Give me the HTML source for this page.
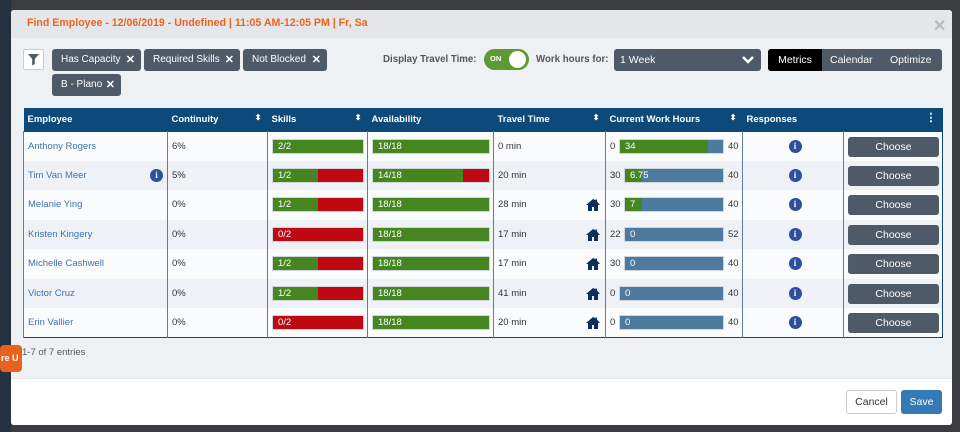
<!DOCTYPE html>
<html><head><meta charset="utf-8"><style>
*{box-sizing:border-box;margin:0;padding:0}
body{width:960px;height:432px;overflow:hidden;background:#3a3c3f;font-family:"Liberation Sans",sans-serif;font-size:10px;position:relative}
.a{position:absolute}
#modal{left:11px;top:10px;width:941px;height:415px;background:#eef1f4;border-radius:3px;overflow:hidden}
.chip{position:absolute;height:22px;background:#4e5a67;color:#fff;border-radius:3px;font-size:10px;line-height:22px;padding-left:9px}
.chip b{position:absolute;right:6px;top:0;font-size:11px}
table{border-collapse:collapse;position:absolute;left:12px;top:98px;width:919px;table-layout:fixed}
th{background:#0d4a7a;color:#fff;font-size:9.5px;text-align:left;height:23px;padding-left:4px;position:relative}
th .s{position:absolute;right:6px;top:5px;font-size:8px}
td{height:29.5px;font-size:9.5px;border-left:1px solid #5b7fa0;padding-left:4px;position:relative;color:#333}
tr:nth-child(odd) td{background:#fafbfc}tr:nth-child(even) td{background:#eef1f5}
.nm{color:#3d74ad}
.info{display:inline-block;width:13px;height:13px;border-radius:50%;background:#2e4ea0;color:#fff;font-size:9px;font-weight:bold;text-align:center;line-height:13px;font-family:"Liberation Serif",serif}
.bar{position:absolute;height:15px;top:7px;border:1px solid #cfd6dc;color:#fff;font-size:9.5px;line-height:13px;overflow:hidden}
.bar span{position:absolute;left:5px;top:0}
.fill{position:absolute;left:0;top:0;bottom:0}
.btn{position:absolute;left:4px;top:5px;width:91px;height:20px;background:#4e5a67;border-radius:3px;color:#fff;font-size:10.5px;text-align:center;line-height:20px}
</style></head><body>
<div class="a" style="left:0;top:0;width:11px;height:432px;background:#253040"></div>
<div class="a" style="left:0;top:345px;width:22px;height:27px;background:#e8621d;border-radius:4px;z-index:2;color:#fff;font-size:9px;line-height:27px;font-weight:bold;padding-left:1px">re U</div>
<div class="a" id="modal">
 <div class="a" style="left:0;top:0;width:941px;height:28px;background:#e4e7ea"></div>
 <div class="a" style="left:16px;top:7px;color:#f0621f;font-size:10.6px;font-weight:bold">Find Employee - 12/06/2019 - Undefined | 11:05 AM-12:05 PM | Fr, Sa</div>
 <div class="a" style="left:922px;top:6px;color:#bbb;font-size:16px;font-weight:bold">✕</div>
 <div class="a" style="left:12px;top:39px;width:21px;height:21px;background:#fff;border:1px solid #ccc;border-radius:2px"><svg width="19" height="19" viewBox="0 0 19 19"><path d="M4 4h11l-4.2 5v5l-2.6 1.5V9z" fill="#4e5a67"/></svg></div>
 <div class="chip" style="left:41px;top:39px;width:89px">Has Capacity<b>✕</b></div>
 <div class="chip" style="left:133px;top:39px;width:96px">Required Skills<b>✕</b></div>
 <div class="chip" style="left:232px;top:39px;width:84px">Not Blocked<b>✕</b></div>
 <div class="chip" style="left:41px;top:64px;width:69px">B - Plano<b>✕</b></div>
 <div class="a" style="left:372px;top:44px;font-size:9.7px;font-weight:bold;color:#555">Display Travel Time:</div>
 <div class="a" style="left:473px;top:39px;width:45px;height:21px;background:#5e9a33;border-radius:11px"><span class="a" style="left:6px;top:5px;color:#fff;font-size:7.5px;font-weight:bold">ON</span><span class="a" style="left:25px;top:2px;width:17px;height:17px;border-radius:50%;background:#fff"></span></div>
 <div class="a" style="left:525px;top:44px;font-size:9.7px;font-weight:bold;color:#555">Work hours for:</div>
 <div class="a" style="left:603px;top:39px;width:147px;height:22px;background:#4e5a67;border-radius:3px;color:#fff;font-size:10.5px;line-height:22px;padding-left:6px">1 Week<svg class="a" style="right:6px;top:6px" width="14" height="10"><path d="M2 2l5 5 5-5" stroke="#fff" stroke-width="2.5" fill="none"/></svg></div>
 <div class="a" style="left:757px;top:39px;width:174px;height:22px;background:#4e5a67;border-radius:3px;color:#fff;font-size:10.5px;line-height:22px">
  <span class="a" style="left:0;top:0;width:54px;height:22px;background:#000;border-radius:3px 0 0 3px;text-align:center">Metrics</span>
  <span class="a" style="left:62px;top:0">Calendar</span>
  <span class="a" style="left:122px;top:0">Optimize</span>
 </div>
 <table>
  <colgroup><col style="width:144px"><col style="width:100px"><col style="width:100px"><col style="width:126px"><col style="width:112px"><col style="width:137px"><col style="width:101px"><col style="width:99px"></colgroup>
  <thead><tr>
   <th>Employee</th>
   <th>Continuity<span class="s">⬍</span></th>
   <th>Skills<span class="s">⬍</span></th>
   <th>Availability</th>
   <th>Travel Time<span class="s">⬍</span></th>
   <th>Current Work Hours<span class="s">⬍</span></th>
   <th>Responses</th>
   <th><span class="s" style="font-size:11px;top:3px">⋮</span></th>
  </tr></thead>
  <tbody id="tb" style="border:1px solid #0d4a7a"></tbody>
 </table>
 <div class="a" style="left:11px;top:337px;font-size:9.5px;color:#555">1-7 of 7 entries</div>
 <div class="a" style="left:0;top:368px;width:941px;height:47px;background:#fff;border-top:1px solid #e2e5e8"></div>
 <div class="a" style="left:835px;top:380px;width:51px;height:24px;border:1px solid #ccc;border-radius:3px;background:#fff;font-size:10.5px;line-height:22px;text-align:center;color:#333">Cancel</div>
 <div class="a" style="left:890px;top:380px;width:41px;height:24px;border-radius:3px;background:#337ab7;font-size:10.5px;line-height:24px;text-align:center;color:#fff">Save</div>
</div>
<script>
const names=["Anthony Rogers","Tim Van Meer","Melanie Ying","Kristen Kingery","Michelle Cashwell","Victor Cruz","Erin Vallier"];
const continuity=["6%","5%","0%","0%","0%","0%","0%"];
const skillsHave=[2,1,1,0,1,1,0];
const skillsReq=[2,2,2,2,2,2,2];
const availHave=[18,14,18,18,18,18,18];
const availReq=[18,18,18,18,18,18,18];
const travel=[0,20,28,17,17,41,20];
const home=[false,false,true,true,true,true,true];
const hoursMin=[0,30,30,22,30,0,0];
const hours=[34,6.75,7,0,0,0,0];
const hoursMax=[40,40,40,52,40,40,40];
const infoName=[false,true,false,false,false,false,false];
const tb=document.getElementById('tb');
function ratioBar(td,have,req,w){
 const b=document.createElement('div');b.className='bar';
 
 
 b.style.left='4px';b.style.width=w+'px';b.style.background='#bf0811';
 const f=document.createElement('div');f.className='fill';f.style.background='#468620';f.style.width=(have/req*100)+'%';
 b.appendChild(f);const s=document.createElement('span');s.textContent=have+'/'+req;b.appendChild(s);td.appendChild(b);
}
for(let i=0;i<names.length;i++){
 const tr=document.createElement('tr');
 
 
 let td=document.createElement('td');
 const a=document.createElement('span');a.className='nm';a.textContent=names[i];
 
 
 td.appendChild(a);
 if(infoName[i]){const ic=document.createElement('span');ic.className='info a';ic.textContent='i';ic.style.right='4px';ic.style.top='8px';
  
  
  td.appendChild(ic);}
 tr.appendChild(td);
 td=document.createElement('td');td.textContent=continuity[i];tr.appendChild(td);
 td=document.createElement('td');ratioBar(td,skillsHave[i],skillsReq[i],92);tr.appendChild(td);
 td=document.createElement('td');ratioBar(td,availHave[i],availReq[i],118);tr.appendChild(td);
 td=document.createElement('td');td.textContent=travel[i]+' min';
 if(home[i]){const h=document.createElementNS('http://www.w3.org/2000/svg','svg');
  h.setAttribute('width','14');h.setAttribute('height','12');h.setAttribute('viewBox','0 0 14 12');
  h.style.position='absolute';h.style.right='5px';h.style.top='9px';
  h.innerHTML='<path d="M7 0L0 6h2v6h4V8h2v4h4V6h2L11 2.5V0.5H9.5v0.8z" fill="#0d2f5a"/>';
  
  
  td.appendChild(h);}
 tr.appendChild(td);
 td=document.createElement('td');
 const mn=document.createElement('span');mn.className='a';mn.style.left='4px';mn.style.top='9px';mn.textContent=hoursMin[i];td.appendChild(mn);
 const bl=String(hoursMin[i]).length>1?18:13;
 const b=document.createElement('div');b.className='bar';
 
 
 b.style.left=bl+'px';b.style.width=(118-bl)+'px';b.style.background='#4e7a9f';
 const f=document.createElement('div');f.className='fill';f.style.background='#468620';f.style.width=(hours[i]/hoursMax[i]*100)+'%';b.appendChild(f);
 const s=document.createElement('span');s.textContent=hours[i];b.appendChild(s);td.appendChild(b);
 const mx=document.createElement('span');mx.className='a';mx.style.left='122px';mx.style.top='9px';mx.textContent=hoursMax[i];td.appendChild(mx);
 tr.appendChild(td);
 td=document.createElement('td');td.style.textAlign='center';
 const ic=document.createElement('span');ic.className='info';ic.textContent='i';
 
 
 td.appendChild(ic);tr.appendChild(td);
 td=document.createElement('td');
 const bt=document.createElement('div');bt.className='btn';bt.textContent='Choose';
 
 
 td.appendChild(bt);tr.appendChild(td);
 tb.appendChild(tr);
}
</script>
</body></html>
